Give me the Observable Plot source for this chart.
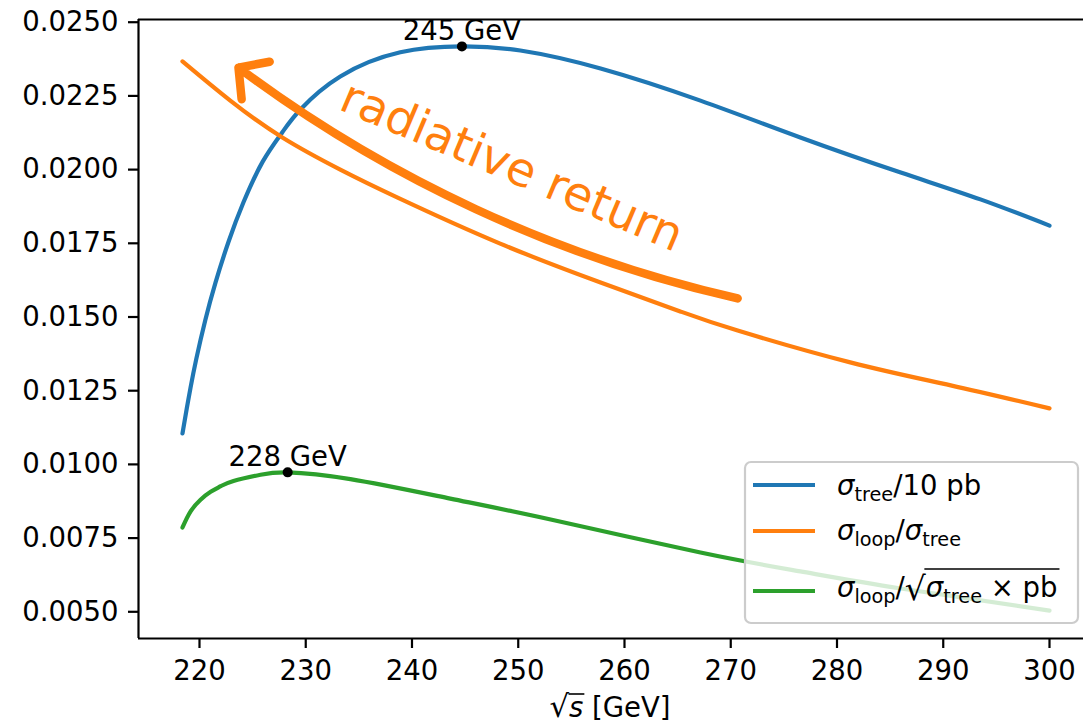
<!DOCTYPE html>
<html><head><meta charset="utf-8">
<script src="https://cdn.jsdelivr.net/npm/d3@7"></script>
<script src="https://cdn.jsdelivr.net/npm/@observablehq/plot@0.6"></script>
<style>
html,body{margin:0;padding:0;background:#fff;overflow:hidden}
#chart{position:relative;width:1083px;height:727px}
</style></head><body><div id="chart"></div>
<script>
// ---- data ----
const xTicks = [220, 230, 240, 250, 260, 270, 280, 290, 300];
const yTicks = [0.0050, 0.0075, 0.0100, 0.0125, 0.0150, 0.0175, 0.0200, 0.0225, 0.0250];

// sigma_tree / 10 pb
const treeX = [218.4, 218.8, 219.15, 219.7, 220.55, 221.5, 222.75, 224.15, 225.95, 227.8, 229.5, 233.25, 238.9, 244.7, 250.2, 257.75, 267.15, 276.55, 286.0, 293.5, 300];
const treeY = [0.01105, 0.01189, 0.01259, 0.01358, 0.01490, 0.01616, 0.01757, 0.01890, 0.02027, 0.02127, 0.02204, 0.02316, 0.02398, 0.02418, 0.02404, 0.02343, 0.02234, 0.02109, 0.01990, 0.01899, 0.01810];

// sigma_loop / sigma_tree
const ratioX = [218.4, 222.9, 227.8, 233.25, 238.65, 248.3, 257.75, 265.25, 270.65, 281.25, 290.7, 300];
const ratioY = [0.02367, 0.02234, 0.02109, 0.02000, 0.01905, 0.01749, 0.01617, 0.01519, 0.01454, 0.01346, 0.01268, 0.01190];

// sigma_loop / sqrt(sigma_tree x pb)
const normX = [218.4, 219.15, 220.1, 221.05, 222.0, 223.2, 225.75, 228.3, 234.2, 243.6, 253.05, 267.15, 276.55, 286.0, 300];
const normY = [0.00786, 0.00840, 0.00880, 0.00907, 0.00926, 0.00944, 0.00965, 0.00973, 0.00950, 0.00884, 0.00813, 0.00701, 0.00637, 0.00579, 0.00504];

// maxima
const peakX = [244.7, 228.3];
const peakY = [0.02418, 0.00973];
const peakLabels = ["245 GeV", "228 GeV"];

// annotation
const noteText = "radiative return";
const noteX = [249.4];
const noteY = [0.02010];
const arrowX1 = [270.65], arrowY1 = [0.01563];
const arrowX2 = [223.67], arrowY2 = [0.02346];

const colors = ["#1f77b4", "#ff7f0e", "#2ca02c"];

// ---- layout ----
const W = 1083, H = 727;
const xDomain = [214.26, 303.2];
const yDomain = [0.004094, 0.025092];
const FS = 27.5;

const series = (xs, ys) => xs.map((x, i) => ({x, y: ys[i]}));
const peaks = peakX.map((x, i) => ({x, y: peakY[i], label: peakLabels[i]}));
const note = noteX.map((x, i) => ({x, y: noteY[i], text: noteText}));
const arrows = arrowX1.map((x, i) => ({x1: x, y1: arrowY1[i], x2: arrowX2[i], y2: arrowY2[i]}));

const chart = Plot.plot({
  width: W, height: H,
  marginLeft: 138, marginRight: 0, marginTop: 19, marginBottom: 89,
  style: {fontFamily: "DejaVu Sans", fontSize: FS + "px", background: "#fff", color: "#000", overflow: "visible"},
  x: {domain: xDomain},
  y: {domain: yDomain},
  marks: [
    Plot.axisX({ticks: xTicks, tickSize: 10, tickPadding: 12, strokeWidth: 2.2, label: null, tickFormat: d3.format("d")}),
    Plot.axisY({ticks: yTicks, tickSize: 10, tickPadding: 10, strokeWidth: 2.2, label: null, tickFormat: d3.format(".4f")}),
    Plot.line(series(treeX, treeY), {x: "x", y: "y", stroke: colors[0], strokeWidth: 4.2, curve: "natural"}),
    Plot.line(series(ratioX, ratioY), {x: "x", y: "y", stroke: colors[1], strokeWidth: 4.2, curve: "natural"}),
    Plot.line(series(normX, normY), {x: "x", y: "y", stroke: colors[2], strokeWidth: 4.2, curve: "natural"}),
    Plot.arrow(arrows, {x1: "x1", y1: "y1", x2: "x2", y2: "y2", bend: 12, stroke: colors[1], strokeWidth: 8.5, headLength: 5.6, headAngle: 95}),
    Plot.text(note, {x: "x", y: "y", text: "text", rotate: 23, fill: colors[1], fontSize: 47, textAnchor: "middle", lineAnchor: "middle"}),
    Plot.dot(peaks, {x: "x", y: "y", r: 5, fill: "#000"}),
    Plot.text(peaks, {x: "x", y: "y", text: "label", dy: -6, lineAnchor: "bottom", textAnchor: "middle", fill: "#000"}),
    Plot.ruleX([xDomain[0]], {strokeWidth: 2.2}),
    Plot.ruleY([yDomain[0]], {strokeWidth: 2.2}),
    Plot.ruleY([yDomain[1]], {strokeWidth: 2.2})
  ]
});
document.getElementById("chart").appendChild(chart);

const svg = d3.select(chart);

// x axis label: sqrt(s) [GeV]
{
  const t = svg.append("text").attr("y", 717).attr("font-size", FS).attr("fill", "#000").attr("text-anchor", "start");
  t.append("tspan").attr("font-size", FS * 1.12).text("\u221A");
  t.append("tspan").attr("font-style", "italic").text("s");
  t.append("tspan").text(" [GeV]");
  const len = t.node().getComputedTextLength();
  const cx = 610;
  t.attr("x", cx - len / 2);
  const sStart = t.node().getStartPositionOfChar(1).x;
  const sEnd = t.node().getEndPositionOfChar(1).x;
  svg.append("line").attr("x1", sStart - 0.5).attr("x2", sEnd + 1).attr("y1", 717 - 23).attr("y2", 717 - 23)
    .attr("stroke", "#000").attr("stroke-width", 1.6);
}

// legend
{
  const g = svg.append("g").attr("text-anchor", "start");
  g.append("rect").attr("x", 745).attr("y", 462).attr("width", 333).attr("height", 161).attr("rx", 6)
    .attr("fill", "#fff").attr("fill-opacity", 0.8).attr("stroke", "#cccccc").attr("stroke-width", 2.2);
  const rowsY = [485, 531, 591];
  const baseY = [495, 540, 597];
  rowsY.forEach((y, i) => {
    g.append("line").attr("x1", 753).attr("x2", 815).attr("y1", y).attr("y2", y)
      .attr("stroke", colors[i]).attr("stroke-width", 4.2);
  });
  const SUB = FS * 0.7, SH = 5.5;
  function sigma(t, sub) {
    t.append("tspan").attr("font-style", "italic").attr("font-size", FS).text("\u03C3");
    t.append("tspan").attr("font-size", SUB).attr("dy", SH).text(sub);
  }
  function plain(t, txt) {
    t.append("tspan").attr("font-size", FS).attr("dy", -SH).text(txt);
  }
  // row 1
  let t = g.append("text").attr("x", 837).attr("y", baseY[0]).attr("fill", "#000").attr("text-anchor", "start");
  sigma(t, "tree"); plain(t, "/10 pb");
  // row 2
  t = g.append("text").attr("x", 837).attr("y", baseY[1]).attr("fill", "#000").attr("text-anchor", "start");
  sigma(t, "loop"); plain(t, "/");
  t.append("tspan").attr("font-style", "italic").attr("font-size", FS).text("\u03C3");
  t.append("tspan").attr("font-size", SUB).attr("dy", SH).text("tree");
  // row 3
  t = g.append("text").attr("x", 837).attr("y", baseY[2]).attr("fill", "#000").attr("text-anchor", "start");
  sigma(t, "loop"); plain(t, "/");
  t.append("tspan").attr("font-size", FS * 1.2).attr("dy", 3).text("\u221A");
  const w1 = t.node().getComputedTextLength();
  const t2 = g.append("text").attr("x", 837 + w1).attr("y", baseY[2]).attr("fill", "#000").attr("text-anchor", "start");
  t2.append("tspan").attr("font-style", "italic").attr("font-size", FS).text("\u03C3");
  t2.append("tspan").attr("font-size", SUB).attr("dy", SH).text("tree");
  t2.append("tspan").attr("font-size", FS).attr("dy", -SH).text(" \u00D7 pb");
  const w2 = t2.node().getComputedTextLength();
  g.append("line").attr("x1", 837 + w1 - 1.5).attr("x2", 837 + w1 + w2 + 2)
    .attr("y1", baseY[2] - 28).attr("y2", baseY[2] - 28).attr("stroke", "#000").attr("stroke-width", 1.6);
}
</script></body></html>
